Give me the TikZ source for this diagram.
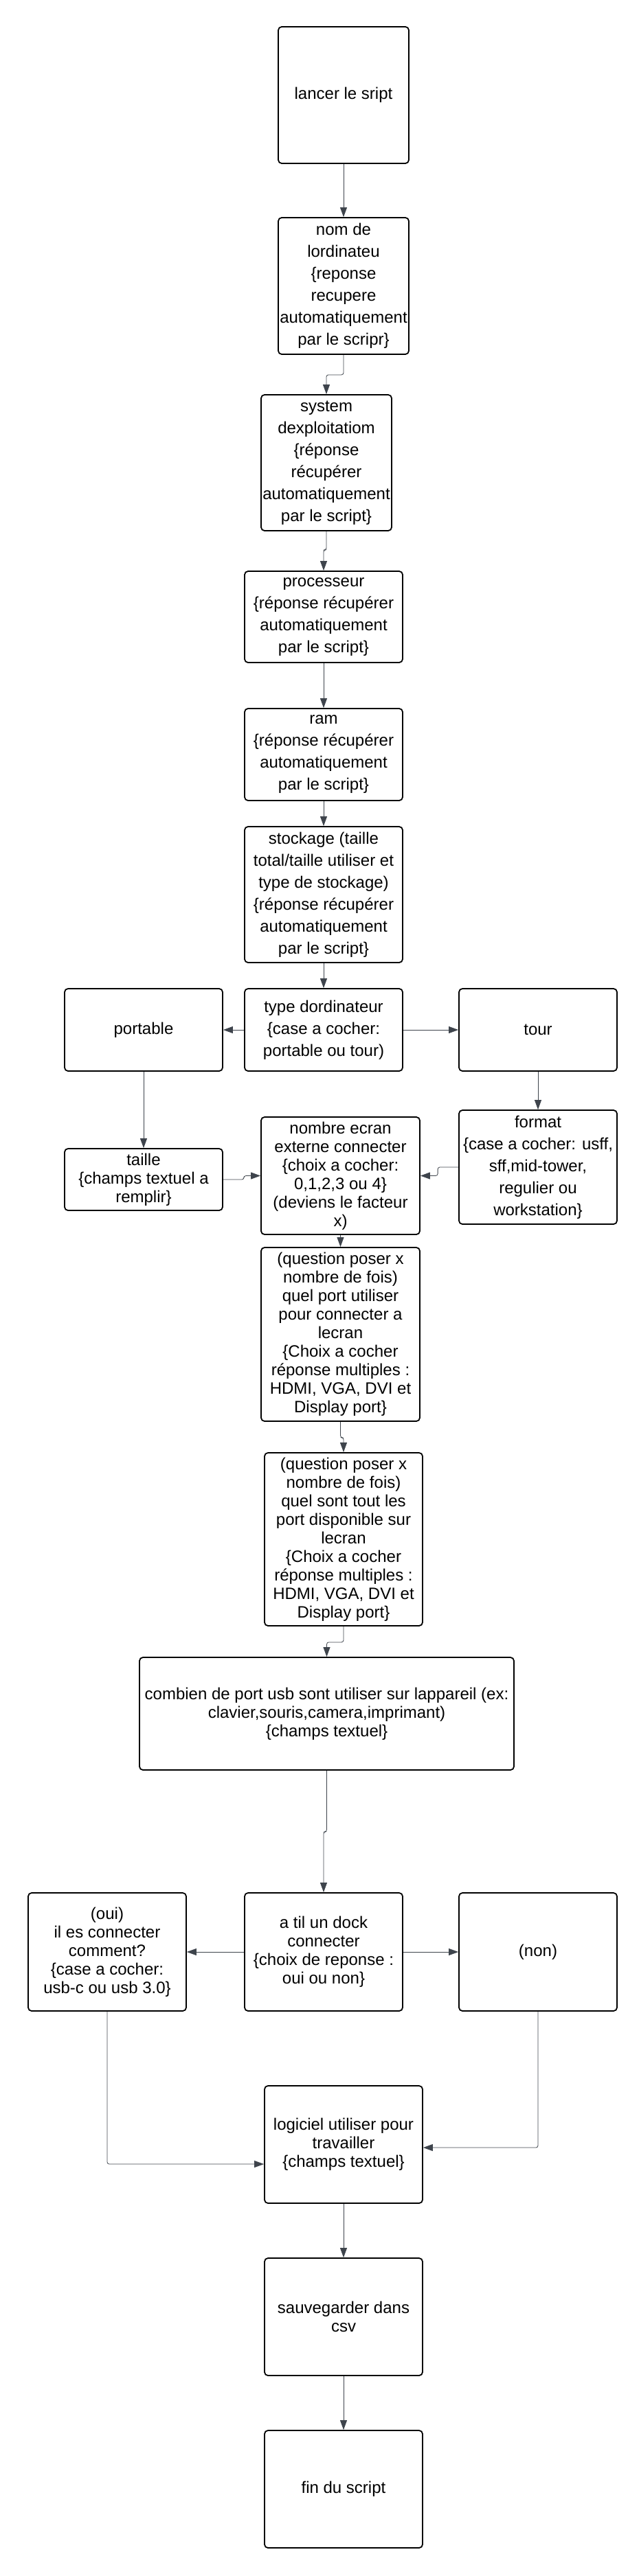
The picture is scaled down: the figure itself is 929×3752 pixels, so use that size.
\documentclass[tikz,border=0pt]{standalone}
\usepackage{fontspec}
\setmainfont{Liberation Sans}
\usetikzlibrary{arrows.meta}
\definecolor{linecol}{HTML}{3E444C}

\begin{document}
\begin{tikzpicture}[->,>={Triangle[length=14pt,width=10pt]},x=1pt,y=-1pt,
                    line width=0.8pt,draw=linecol]
  \tikzstyle{box}=[draw=black,line width=1.8pt,rounded corners=5pt,align=center,
                   inner sep=0pt,font=\fontsize{24}{32}\selectfont]
  \tikzstyle{tight}=[font=\fontsize{24}{27}\selectfont]
  \useasboundingbox (0,0) rectangle (929,3752);

  \node[box,minimum width=190pt,minimum height=199pt] (lancer) at (500,138.5) {lancer le sript};
  \node[box,minimum width=190pt,minimum height=199pt] (nom)    at (500,416.5)
       {nom de\\lordinateu\\\{reponse\\recupere\\automatiquement\\par le scripr\}};
  \node[box,minimum width=190pt,minimum height=198pt] (os)     at (475,674)
       {system\\dexploitatiom\\\{réponse\\récupérer\\automatiquement\\par le script\}};
  \node[box,minimum width=230pt,minimum height=133pt] (cpu)    at (471,898.5)
       {processeur\\\{réponse récupérer\\automatiquement\\par le script\}};
  \node[box,minimum width=230pt,minimum height=134pt] (ram)    at (471,1099)
       {ram\\\{réponse récupérer\\automatiquement\\par le script\}};
  \node[box,minimum width=230pt,minimum height=198pt] (disk)   at (471,1303)
       {stockage (taille\\total/taille utiliser et\\type de stockage)\\\{réponse récupérer\\automatiquement\\par le script\}};
  \node[box,minimum width=230pt,minimum height=120pt] (type)   at (471,1500)
       {type dordinateur\\\{case a cocher:\\portable ou tour)};
  \node[box,minimum width=230pt,minimum height=120pt] (laptop) at (209,1500) {portable};
  \node[box,minimum width=230pt,minimum height=120pt] (tower)  at (783,1500) {tour};
  \node[box,tight,minimum width=230pt,minimum height=90pt] (size) at (209,1718)
       {taille\\\{champs textuel a\\remplir\}};
  \node[box,minimum width=230pt,minimum height=166pt] (format) at (783,1700)
       {format\\\{case a cocher: usff,\\sff,mid-tower,\\regulier ou\\workstation\}};
  \node[box,tight,minimum width=231pt,minimum height=171pt] (screens) at (495.5,1712.5)
       {nombre ecran\\externe connecter\\\{choix a cocher:\\0,1,2,3 ou 4\}\\(deviens le facteur\\x)};
  \node[box,tight,minimum width=231pt,minimum height=253pt] (portA) at (495.5,1943.5)
       {(question poser x\\nombre de fois)\\quel port utiliser\\pour connecter a\\lecran\\ \{Choix a cocher\\réponse multiples :\\HDMI, VGA, DVI et\\Display port\}};
  \node[box,tight,minimum width=230pt,minimum height=252pt] (portB) at (500,2242)
       {(question poser x\\nombre de fois)\\quel sont tout les\\port disponible sur\\lecran\\ \{Choix a cocher\\réponse multiples :\\HDMI, VGA, DVI et\\Display port\}};
  \node[box,tight,minimum width=545pt,minimum height=164pt] (usb) at (475.5,2496)
       {combien de port usb sont utiliser sur lappareil (ex:\\clavier,souris,camera,imprimant)\\\{champs textuel\}};
  \node[box,tight,minimum width=230pt,minimum height=172pt] (dock) at (471,2843)
       {a til un dock\\connecter\\\{choix de reponse :\\oui ou non\}};
  \node[box,tight,minimum width=230pt,minimum height=172pt] (yes)  at (156,2843)
       {(oui)\\il es connecter\\comment?\\\{case a cocher:\\usb-c ou usb 3.0\}};
  \node[box,tight,minimum width=230pt,minimum height=172pt] (no)   at (783,2843) {(non)};
  \node[box,tight,minimum width=230pt,minimum height=171pt] (soft) at (500,3123.5)
       {logiciel utiliser pour\\travailler\\\{champs textuel\}};
  \node[box,tight,minimum width=230pt,minimum height=171pt] (csv)  at (500,3374.5)
       {sauvegarder dans\\csv};
  \node[box,tight,minimum width=230pt,minimum height=171pt] (end)  at (500,3625.5) {fin du script};

  \path (lancer) edge (nom)
        (cpu)    edge (ram)
        (ram)    edge (disk)
        (disk)   edge (type)
        (type)   edge (laptop)
        (type)   edge (tower)
        (laptop) edge (size)
        (tower)  edge (format)
        (screens) edge (portA)
        (dock)   edge (yes)
        (dock)   edge (no)
        (soft)   edge (csv)
        (csv)    edge (end);

  \begin{scope}[rounded corners=3pt]
    \draw (nom.south) -- ++(0,29) -| (os.north);
    \draw (os.south) -- ++(0,27) -| (cpu.north);
    \draw (size.east) -- ++(30,0) |- (screens.west);
    \draw (format.west) -- ++(-30,0) |- (screens.east);
    \draw (portA.south) -- ++(0,23) -| (portB.north);
    \draw (portB.south) -- ++(0,23) -| (usb.north);
    \draw (usb.south) -- ++(0,89) -| (dock.north);
    \draw (yes.south) |- ([yshift=-28.5pt]soft.west);
    \draw (no.south) |- ([yshift=-4.5pt]soft.east);
  \end{scope}
\end{tikzpicture}
\end{document}
